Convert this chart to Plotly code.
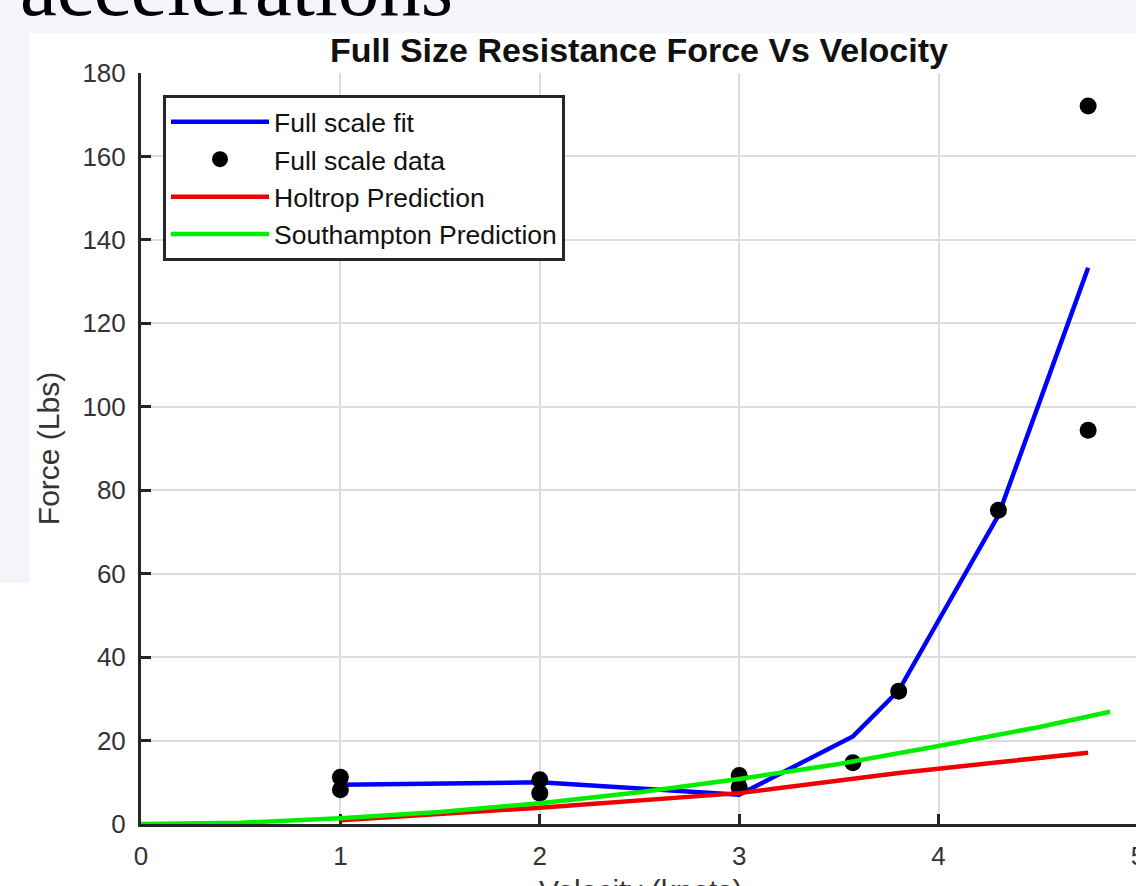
import plotly.graph_objects as go

# ---- data ----
data_velocity = [1, 1, 2, 2, 3, 3, 3.57, 3.8, 4.3, 4.75, 4.75]
data_force = [11.2, 8.2, 10.6, 7.4, 11.6, 8.8, 14.7, 31.8, 75.2, 94.4, 172.1]

fit_velocity = [1, 2, 3, 3.57, 3.8, 4.3, 4.75]
fit_force = [9.4, 10.0, 7.0, 21.0, 32.0, 74.0, 133.3]

holtrop_velocity = [1, 2, 3, 3.57, 3.8, 4.3, 4.75]
holtrop_force = [0.9, 3.9, 7.4, 11.0, 12.2, 14.8, 17.1]

southampton_velocity = [0, 0.5, 1, 1.5, 2, 2.5, 3, 3.5, 4, 4.5, 4.86]
southampton_force = [0, 0.3, 1.4, 2.9, 5.0, 7.6, 10.8, 14.4, 18.7, 23.2, 26.9]

x_ticks = [0, 1, 2, 3, 4, 5]
y_ticks = [0, 20, 40, 60, 80, 100, 120, 140, 160, 180]

FONT = "Liberation Sans, Arial, Helvetica, sans-serif"
TXT = "#333333"
AX = "#262626"

fig = go.Figure()
fig.add_trace(go.Scatter(x=fit_velocity, y=fit_force, mode="lines", name="Full scale fit",
                         line=dict(color="#0000ff", width=4.5)))
fig.add_trace(go.Scatter(x=data_velocity, y=data_force, mode="markers", name="Full scale data",
                         marker=dict(color="black", size=17, line=dict(width=0))))
fig.add_trace(go.Scatter(x=holtrop_velocity, y=holtrop_force, mode="lines", name="Holtrop Prediction",
                         line=dict(color="#ee0000", width=4.5), cliponaxis=False))
fig.add_trace(go.Scatter(x=southampton_velocity, y=southampton_force, mode="lines",
                         name="Southampton Prediction",
                         line=dict(color="#00ee00", width=4.5), cliponaxis=False))

L, T, B = 141, 73, 62
W, H = 1140, 886
pw = W - L
ph = H - T - B
x_max = pw / 199.4


def px(x):
    return (x - L) / pw


def py(y):
    return (H - B - y) / ph


axis_common = dict(
    showgrid=True, gridcolor="#dcdcdc", gridwidth=2,
    showline=True, linecolor=AX, linewidth=3,
    ticks="inside", ticklen=10, tickwidth=3, tickcolor=AX,
    zeroline=False, layer="below traces", automargin=False,
    ticklabeloverflow="allow",
    tickfont=dict(family=FONT, size=26, color=TXT),
)

fig.update_layout(
    width=W, height=H,
    margin=dict(l=L, r=0, t=T, b=B, pad=0, autoexpand=False),
    paper_bgcolor="white", plot_bgcolor="white",
    font=dict(family=FONT, color=TXT),
    title=dict(text="<b>Full Size Resistance Force Vs Velocity</b>",
               font=dict(family=FONT, size=34, color="#111111"),
               xref="paper", x=(639 - L) / pw, xanchor="center",
               yref="container", y=1 - 50 / H, yanchor="middle"),
    xaxis=dict(range=[0, x_max], tickvals=x_ticks, ticktext=[str(v) for v in x_ticks],
               ticklabelstandoff=7,
               **axis_common),
    yaxis=dict(range=[0, 180], tickvals=y_ticks, ticktext=[str(v) for v in y_ticks],
               title=dict(text="Force (Lbs)", font=dict(family=FONT, size=30, color=TXT),
                          standoff=14),
               ticklabelstandoff=7,
               **axis_common),
    showlegend=True,
    legend=dict(x=px(163), y=py(95), xanchor="left", yanchor="top",
                bgcolor="white", bordercolor=AX, borderwidth=3,
                font=dict(family=FONT, size=26.5, color="#111111"),
                itemwidth=98, tracegroupgap=0),
    shapes=[
        dict(type="rect", xref="paper", yref="paper", x0=px(0), x1=px(W), y0=py(33), y1=py(0),
             fillcolor="#f3f5fa", line=dict(width=0), layer="below"),
        dict(type="rect", xref="paper", yref="paper", x0=px(0), x1=px(30), y0=py(583), y1=py(33),
             fillcolor="#f3f5fa", line=dict(width=0), layer="below"),
    ],
    annotations=[
        dict(text="accelerations", xref="paper", yref="paper", x=px(18), y=py(35),
             xanchor="left", yanchor="bottom", showarrow=False,
             font=dict(family="Liberation Serif, Times New Roman, serif", size=83, color="black")),
        dict(text="Velocity (knots)", xref="paper", yref="paper", x=px(640), y=py(872),
             xanchor="center", yanchor="top", showarrow=False,
             font=dict(family=FONT, size=30, color=TXT)),
    ],
)

fig.write_html(
    "out.html",
    config={"displayModeBar": False},
    post_script="document.body.style.margin='0';document.body.style.overflow='hidden';"
                "document.documentElement.style.overflow='hidden';",
)
